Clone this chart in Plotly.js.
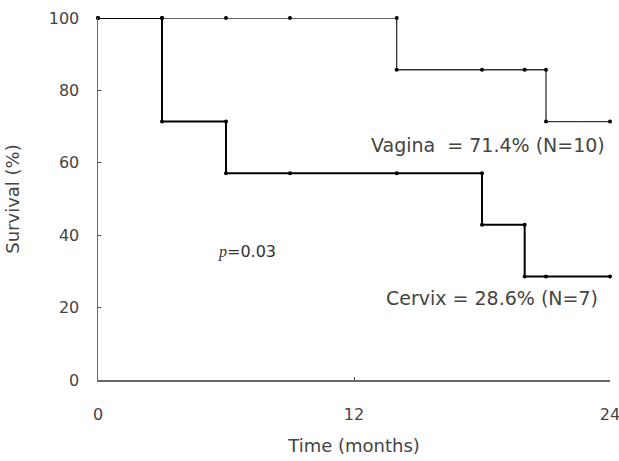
<!DOCTYPE html>
<html>
<head>
<meta charset="utf-8">
<script src="https://cdn.plot.ly/plotly-3.0.1.min.js"></script>
<style>html,body{margin:0;padding:0;background:#fff;}#chart{width:619px;height:461px;}</style>
</head>
<body>
<div id="chart"></div>
<script>
// Kaplan-Meier style survival data (months, % surviving)
const vaginaTime = [0, 3, 6, 9, 14, 14, 18, 20, 21, 21, 24];
const vaginaSurv = [100, 100, 100, 100, 100, 85.7, 85.7, 85.7, 85.7, 71.4, 71.4];
const cervixTime = [0, 3, 3, 6, 6, 9, 14, 18, 18, 20, 20, 21, 24];
const cervixSurv = [100, 100, 71.4, 71.4, 57.1, 57.1, 57.1, 57.1, 42.9, 42.9, 28.6, 28.6, 28.6];
const xTicks = [0, 12, 24];
const yTicks = [0, 20, 40, 60, 80, 100];
const labels = {
  vagina: 'Vagina  = 71.4% (N=10)',
  cervix: 'Cervix = 28.6% (N=7)',
  p: '<i><span style="font-family:Liberation Serif, serif">p</span></i>=0.03'
};

const fam = 'DejaVu Sans, Verdana, sans-serif';
const tickFont = {family: fam, size: 16, color: '#444'};
const titleFont = {family: fam, size: 18, color: '#444'};
const annFont = {family: fam, size: 19, color: '#444'};

const traces = [
  {x: vaginaTime, y: vaginaSurv, type: 'scatter', mode: 'lines+markers', name: 'Vagina',
   line: {color: '#333', width: 1.3}, marker: {color: '#000', size: 4}, cliponaxis: false},
  {x: cervixTime, y: cervixSurv, type: 'scatter', mode: 'lines+markers', name: 'Cervix',
   line: {color: '#000', width: 2}, marker: {color: '#000', size: 4}, cliponaxis: false}
];

const layout = {
  width: 619, height: 461,
  margin: {l: 98, r: 9, t: 18, b: 81},
  paper_bgcolor: '#fff', plot_bgcolor: '#fff',
  showlegend: false,
  font: tickFont,
  xaxis: {
    range: [0, 24], tickvals: xTicks, ticktext: xTicks.map(String),
    showline: true, linecolor: '#666', linewidth: 1.5, showgrid: false, zeroline: false,
    ticks: 'inside', ticklen: 3, tickcolor: '#444', tickwidth: 1,
    ticklabelstandoff: 19, ticklabeloverflow: 'allow', tickfont: tickFont,
    title: {text: 'Time (months)', font: titleFont, standoff: 16}
  },
  yaxis: {
    range: [0, 100], tickvals: yTicks, ticktext: yTicks.map(String),
    showline: true, linecolor: '#666', linewidth: 1.5, showgrid: false, zeroline: false,
    ticks: 'inside', ticklen: 3, tickcolor: '#444', tickwidth: 1,
    ticklabelstandoff: 14, tickfont: tickFont,
    title: {text: 'Survival (%)', font: titleFont, standoff: 24}
  },
  annotations: [
    {x: 23.86, y: 64.9, xref: 'x', yref: 'y', text: labels.vagina, showarrow: false,
     xanchor: 'right', yanchor: 'middle', font: annFont},
    {x: 23.53, y: 22.65, xref: 'x', yref: 'y', text: labels.cervix, showarrow: false,
     xanchor: 'right', yanchor: 'middle', font: annFont},
    {x: 7, y: 35.5, xref: 'x', yref: 'y', text: labels.p, showarrow: false,
     xanchor: 'center', yanchor: 'middle', font: {family: fam, size: 16, color: '#333'}}
  ]
};

Plotly.newPlot('chart', traces, layout, {displayModeBar: false, staticPlot: true});
</script>
</body>
</html>
